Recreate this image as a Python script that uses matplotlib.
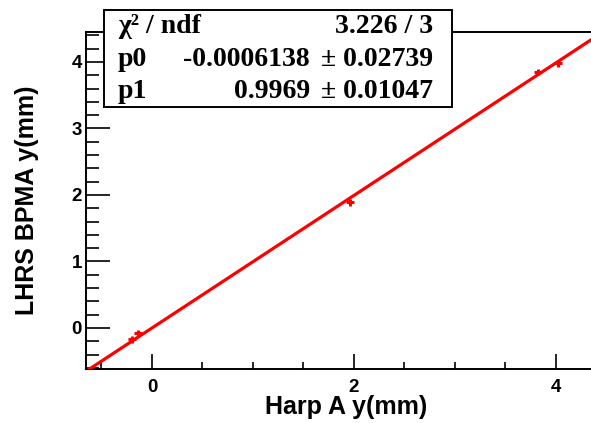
import numpy as np
import matplotlib
matplotlib.use("Agg")
from matplotlib import pyplot as plt
from matplotlib.patches import Rectangle
from matplotlib.ticker import MultipleLocator

# =============================================================================
# Data
# =============================================================================
harp_y = [-0.20, -0.14, 1.96, 3.82, 4.02]
bpma_y = [-0.17, -0.08, 1.89, 3.85, 3.98]
harp_err = [0.04, 0.04, 0.04, 0.04, 0.04]
bpma_err = [0.05, 0.05, 0.05, 0.05, 0.05]

p0, p0_err = -0.0006138, 0.02739
p1, p1_err = 0.9969, 0.01047
chi2, ndf = 3.226, 3
fit_range = [-0.7, 4.5]

x_label = "Harp A y(mm)"
y_label = "LHRS BPMA y(mm)"

# =============================================================================
# Figure
# =============================================================================
W, H = 591, 423
fig = plt.figure(figsize=(W / 100, H / 100), dpi=100)
ax = fig.add_axes([86 / W, 1 - 369 / H, (W - 86) / W, (369 - 32) / H])

sans = "Liberation Sans"
serif = "Liberation Serif"

xf = np.array(fit_range)
ax.plot(xf, p0 + p1 * xf, color="#ff0000", lw=2.3, zorder=3)
ax.errorbar(harp_y, bpma_y, xerr=harp_err, yerr=bpma_err, fmt="none",
            ecolor="#ff0000", elinewidth=2.2, capsize=0, zorder=4)

ax.set_xlim(-0.653, 4.347)
ax.set_ylim(-0.617, 4.451)

ax.xaxis.set_major_locator(MultipleLocator(2))
ax.xaxis.set_minor_locator(MultipleLocator(0.5))
ax.yaxis.set_major_locator(MultipleLocator(1))
ax.yaxis.set_minor_locator(MultipleLocator(0.2))

ax.tick_params(axis="x", which="major", direction="in", length=11, width=1.2,
               pad=7, top=False)
ax.tick_params(axis="x", which="minor", direction="in", length=5, width=1.2,
               top=False)
ax.tick_params(axis="y", which="major", direction="in", length=17, width=1.2,
               pad=3, right=False)
ax.tick_params(axis="y", which="minor", direction="in", length=9, width=1.2,
               right=False)

for lab in ax.get_xticklabels() + ax.get_yticklabels():
    lab.set_fontfamily(sans)
    lab.set_fontweight("bold")
    lab.set_fontsize(13.5)

for side in ["left", "bottom", "top"]:
    ax.spines[side].set_linewidth(1.4)
ax.spines["right"].set_visible(False)

fig.text(346 / W, 1 - 407 / H, x_label, ha="center", va="center",
         fontfamily=sans, fontweight="bold", fontsize=18)
fig.text(27 / W, 1 - 200 / H, y_label, ha="center", va="center",
         rotation=90, fontfamily=sans, fontweight="bold", fontsize=18)

# -----------------------------------------------------------------------------
# Stats box
# -----------------------------------------------------------------------------
box = Rectangle((104 / W, 1 - 107 / H), (452 - 104) / W, 97 / H,
                transform=fig.transFigure, facecolor="white",
                edgecolor="black", lw=1.4, zorder=10)
fig.patches.append(box)

tkw = dict(fontfamily=serif, fontweight="bold", fontsize=20,
           va="baseline", zorder=11)
x_lab, x_val, x_err = 118 / W, 310 / W, 433 / W
rows = [1 - 33 / H, 1 - 66 / H, 1 - 98 / H]

fig.text(x_lab, rows[0], "\u03c7\u00b2 / ndf", ha="left", **tkw)
fig.text(x_err, rows[0], "{} / {}".format(chi2, ndf), ha="right", **tkw)
fig.text(x_lab, rows[1], "p0", ha="left", **tkw)
fig.text(x_val, rows[1], "{}".format(p0), ha="right", **tkw)
fig.text(x_err, rows[1], "\u00b1 {}".format(p0_err), ha="right", **tkw)
fig.text(x_lab, rows[2], "p1", ha="left", **tkw)
fig.text(x_val, rows[2], "{}".format(p1), ha="right", **tkw)
fig.text(x_err, rows[2], "\u00b1 {}".format(p1_err), ha="right", **tkw)

fig.savefig("out.png", dpi=100)
